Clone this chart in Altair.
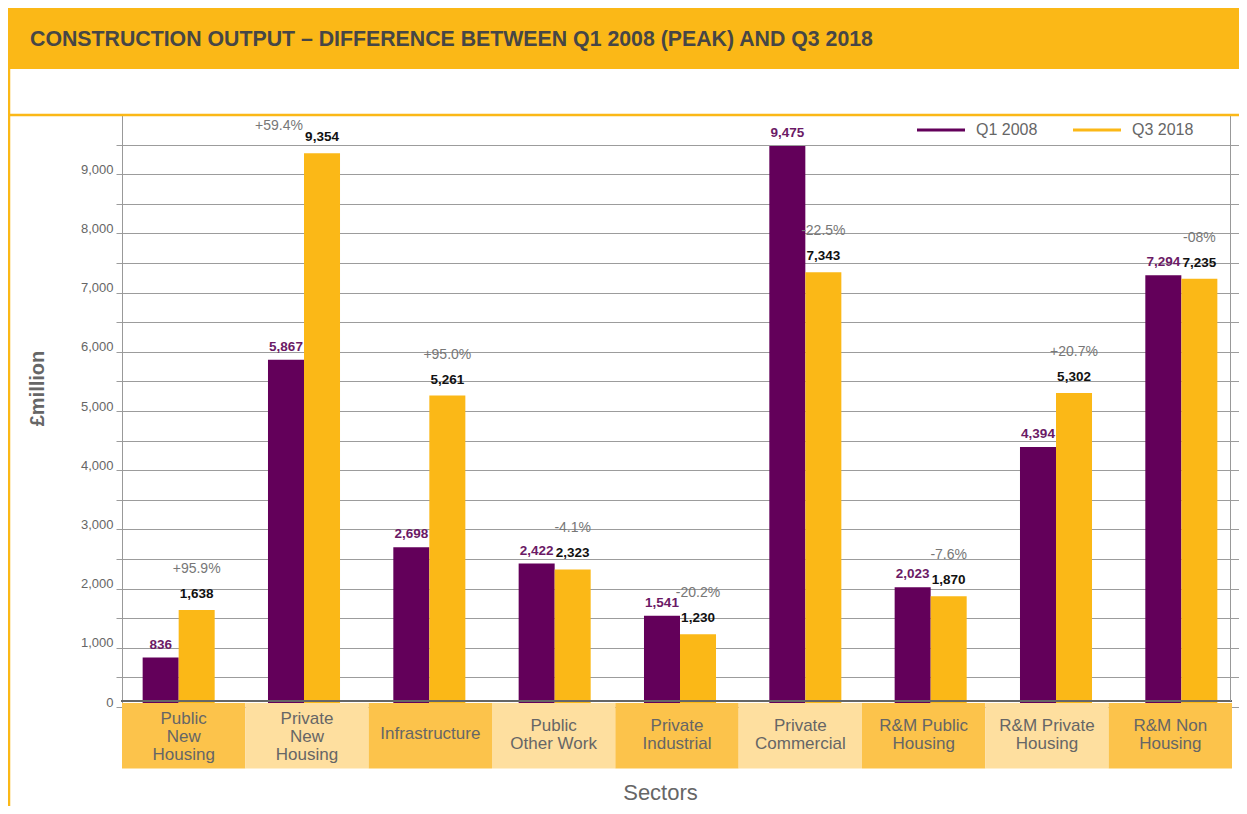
import altair as alt
import pandas as pd

# ---------------- data ----------------
title_text = "CONSTRUCTION OUTPUT \u2013 DIFFERENCE BETWEEN Q1 2008 (PEAK) AND Q3 2018"
sectors = ["Public New Housing", "Private New Housing", "Infrastructure", "Public Other Work",
           "Private Industrial", "Private Commercial", "R&M Public Housing",
           "R&M Private Housing", "R&M Non Housing"]
sector_lines = [["Public", "New", "Housing"], ["Private", "New", "Housing"], ["Infrastructure"],
                ["Public", "Other Work"], ["Private", "Industrial"], ["Private", "Commercial"],
                ["R&M Public", "Housing"], ["R&M Private", "Housing"], ["R&M Non", "Housing"]]
series = ["Q1 2008", "Q3 2018"]
q1_2008 = [836, 5867, 2698, 2422, 1541, 9475, 2023, 4394, 7294]
q3_2018 = [1638, 9354, 5261, 2323, 1230, 7343, 1870, 5302, 7235]
pct_change = ["+95.9%", "+59.4%", "+95.0%", "-4.1%", "-20.2%", "-22.5%", "-7.6%", "+20.7%", "-08%"]

# ---------------- styles ----------------
PURPLE = "#63005a"
PURPLE_TXT = "#6b1a66"
YELLOW = "#fbb817"
BAND_DARK = "#fcc34b"
BAND_LIGHT = "#fedf9f"
GREY = "#666666"
FONT = "Liberation Sans"

W, H = 1108, 592

rows = []
for i, s in enumerate(sectors):
    rows.append({"sector": s, "series": series[0], "value": q1_2008[i], "pct": pct_change[i]})
    rows.append({"sector": s, "series": series[1], "value": q3_2018[i], "pct": pct_change[i]})
long_df = pd.DataFrame(rows)
wide_df = pd.DataFrame({"sector": sectors, "lines": sector_lines,
                        "idx": list(range(len(sectors))),
                        "n": [len(l) for l in sector_lines]})
one = pd.DataFrame({"k": [0]})

x_bar_scale = alt.Scale(domain=sectors, range=[-6, 1122], paddingInner=0, paddingOuter=0)
xoff_scale = alt.Scale(domain=series, paddingInner=0, paddingOuter=0.74)
y_scale = alt.Scale(domain=[0, 10000], nice=False)

x_axis = alt.Axis(title="Sectors", labels=False, ticks=False, domain=False, grid=False,
                  titleX=538, titleY=85, titleFontSize=22, titleColor=GREY,
                  titleFontWeight="normal", titleBaseline="middle", titleAlign="center")
y_axis = alt.Axis(values=list(range(0, 10000, 500)),
                  labelExpr="datum.value % 1000 == 0 ? format(datum.value, ',') : ''",
                  grid=True, gridColor="#9c9c9c", gridWidth=1, ticks=False,
                  domain=True, domainColor="#999999", domainWidth=1,
                  labelColor=GREY, labelFontSize=13, labelPadding=9, labelOffset=-5,
                  title="\u00a3million", titleX=-85, titleY=273, titleAngle=270,
                  titleFontSize=20, titleFontWeight="bold", titleColor=GREY,
                  titleAlign="center", titleBaseline="middle")

x_enc = alt.X("sector:N", scale=x_bar_scale, axis=x_axis)
xo_enc = alt.XOffset("series:N", scale=xoff_scale)
y_enc = alt.Y("value:Q", scale=y_scale, axis=y_axis)

bars = alt.Chart(long_df).mark_bar().encode(
    x=x_enc, xOffset=xo_enc, y=y_enc,
    color=alt.Color("series:N", scale=alt.Scale(domain=series, range=[PURPLE, YELLOW]),
                    legend=alt.Legend(title=None, orient="none", legendX=795, legendY=-9,
                                      direction="horizontal",
                                      symbolType="M-1,-0.06H1V0.06H-1Z", symbolSize=2304,
                                      symbolStrokeWidth=0, labelFontSize=16, labelColor=GREY,
                                      labelOffset=11, columnPadding=35, padding=0)),
)

q1_lbl = alt.Chart(long_df).transform_filter(alt.datum.series == series[0]).mark_text(
    dy=-9, baseline="alphabetic", fontSize=13.5, color=PURPLE_TXT, fontWeight="bold"
).encode(x=x_enc, xOffset=xo_enc, y=y_enc, text=alt.Text("value:Q", format=","))

q3_lbl = alt.Chart(long_df).transform_filter(alt.datum.series == series[1]).mark_text(
    dy=-12, baseline="alphabetic", fontSize=13.5, color="#111111", fontWeight="bold"
).encode(x=x_enc, xOffset=xo_enc, y=y_enc, text=alt.Text("value:Q", format=","))

pct_lbl = alt.Chart(long_df).transform_filter(
    (alt.datum.series == series[1]) & (alt.datum.value <= 9000)
).mark_text(dy=-37, baseline="alphabetic", fontSize=14, color="#777777").encode(
    x=x_enc, xOffset=xo_enc, y=y_enc, text="pct:N")

pct_lbl_high = alt.Chart(long_df).transform_filter(
    (alt.datum.series == series[1]) & (alt.datum.value > 9000)
).mark_text(dy=-23, dx=-43, baseline="alphabetic", fontSize=14, color="#777777").encode(
    x=x_enc, xOffset=xo_enc, y=y_enc, text="pct:N")

bar_layer = alt.layer(bars, q1_lbl, q3_lbl, pct_lbl, pct_lbl_high)

band_scale = alt.Scale(domain=sectors, range=[0, 1110], paddingInner=0, paddingOuter=0)
bands = alt.Chart(wide_df).mark_rect().encode(
    x=alt.X("sector:N", scale=band_scale, axis=None),
    y=alt.value(588), y2=alt.value(653.5),
    fill=alt.condition(alt.datum.idx % 2 == 0, alt.value(BAND_DARK), alt.value(BAND_LIGHT)),
)


def band_text(n_lines, y_first):
    return alt.Chart(wide_df).transform_filter(alt.datum.n == n_lines).mark_text(
        fontSize=17, color=GREY, baseline="middle", align="center", lineHeight=18
    ).encode(
        x=alt.X("sector:N", scale=band_scale, axis=None),
        y=alt.value(y_first),
        text="lines",
    )


band_layer = alt.layer(bands, band_text(1, 619), band_text(2, 611), band_text(3, 604))

base_line = alt.Chart(one).mark_rule(color=GREY, strokeWidth=2).encode(
    x=alt.value(-1), x2=alt.value(1110), y=alt.value(586))
right_line = alt.Chart(one).mark_rule(color="#999999", strokeWidth=1).encode(
    x=alt.value(1108.5), y=alt.value(0), y2=alt.value(586))
header = alt.Chart(one).mark_rect(color=YELLOW).encode(
    x=alt.value(-114), x2=alt.value(1125), y=alt.value(-107), y2=alt.value(-46))
header_text = alt.Chart(one).mark_text(
    align="left", baseline="alphabetic", fontSize=21.3, color="#464646", fontWeight="bold"
).encode(x=alt.value(-92), y=alt.value(-69), text=alt.value(title_text))
top_line = alt.Chart(one).mark_rule(color=YELLOW, strokeWidth=2.5).encode(
    x=alt.value(-114), x2=alt.value(1125), y=alt.value(0))
left_line = alt.Chart(one).mark_rule(color=YELLOW, strokeWidth=2.5).encode(
    x=alt.value(-113), y=alt.value(-47), y2=alt.value(700))

chart = alt.layer(
    bar_layer, band_layer, base_line, right_line, header, header_text, top_line, left_line
).resolve_scale(x="independent").properties(
    width=W, height=H,
    padding={"left": 114, "top": 107, "right": 9, "bottom": 99},
    autosize=alt.AutoSizeParams(type="none"),
    background="white",
).configure(font=FONT).configure_view(stroke=None)

chart.save("out.html", embed_options={"renderer": "svg", "actions": False})
